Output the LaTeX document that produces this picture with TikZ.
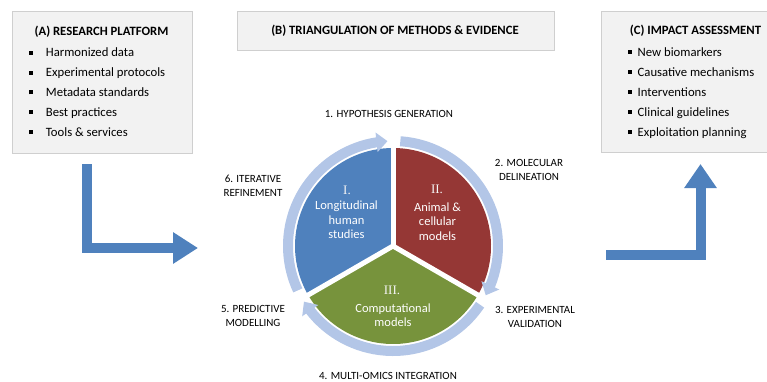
\documentclass[tikz,border=0pt]{standalone}
\usepackage{fontspec}
\setmainfont{Carlito}
\newfontfamily\romanfont{Liberation Serif}
\usetikzlibrary{arrows.meta,bending}

\definecolor{boxfill}{HTML}{F2F2F2}
\definecolor{boxline}{HTML}{CFCFCF}
\definecolor{flowblue}{HTML}{4F81BD}
\definecolor{humanblue}{HTML}{4F81BD}
\definecolor{animalred}{HTML}{953735}
\definecolor{compgreen}{HTML}{77933C}
\definecolor{ringblue}{HTML}{B3C6E7}

\newcommand{\sqbullet}[1]{\makebox[#1][l]{\rule[2.1pt]{4pt}{4pt}}}

\begin{document}
\begin{tikzpicture}[x=1pt, y=1pt,
every node/.style={inner sep=0pt},
panel/.style={draw=boxline, fill=boxfill, line width=0.8pt},
paneltitle/.style={font=\fontsize{12.7}{15}\selectfont\bfseries, text height=8.2pt, text depth=0pt},
panelitem/.style={font=\fontsize{12.7}{15}\selectfont, anchor=west, text height=8.2pt, text depth=0pt},
stagelabel/.style={font=\fontsize{11}{14}\selectfont, align=center},
modellabel/.style={font=\fontsize{12.5}{14.5}\selectfont, align=center, text=white},
numeral/.style={font=\fontsize{13}{15}\selectfont\romanfont, text=white!92!gray},
bigarrow/.style={draw=flowblue, line width=10pt, line join=miter},
ringarrow/.style={draw=ringblue, line width=10pt, -{Triangle[length=11pt,width=19pt]}}
]
\useasboundingbox (0,0) rectangle (767,381);

% three panels
\node[panel, minimum width=180pt, minimum height=142pt] (research) at (102,299) {};
\node[panel, minimum width=317pt, minimum height=39pt] (triangulation) at (395.5,350.5) {};
\node[panel, minimum width=169pt, minimum height=141pt] (impact) at (685.5,299.5) {};

\node[paneltitle] (research-title) at (101.5,350) {(A) RESEARCH PLATFORM};
\node[paneltitle] (triangulation-title) at (395,351) {(B) TRIANGULATION OF METHODS \& EVIDENCE};
\node[paneltitle] (impact-title) at (695.5,351) {(C) IMPACT ASSESSMENT};

\foreach \txt [count=\k] in {Harmonized data, Experimental protocols, Metadata standards, Best practices, Tools \& services}
    \node[panelitem] (research-\k) at (28.7,381-33-19.8*\k) {\sqbullet{17pt}\txt};
\foreach \txt [count=\k] in {New biomarkers, Causative mechanisms, Interventions, Clinical guidelines, Exploitation planning}
    \node[panelitem] (impact-\k) at (628,381-32-20*\k) {\sqbullet{9.5pt}\txt};

% pie of the three model types
\coordinate (hub) at (393,135);
\fill[humanblue] (hub) -- ++(90:98) arc[start angle=90, end angle=210, radius=98] -- cycle;
\fill[animalred] (hub) -- ++(-30:98) arc[start angle=-30, end angle=90, radius=98] -- cycle;
\fill[compgreen] (hub) -- ++(210:98) arc[start angle=210, end angle=330, radius=98] -- cycle;
\foreach \a in {90,210,330}
    \draw[white, line width=5pt] (hub) -- ++(\a:102);

% cycle around the pie
\foreach \s/\e in {205/93, 86/-28, -34/-148}
    \draw[ringarrow] ([shift={(\s:105)}]hub) arc[start angle=\s, end angle=\e, radius=105];

\node[numeral] (human-num) at (347,191) {I.};
\node[modellabel] (human) at (346.5,161) {Longitudinal\\human\\studies};
\node[numeral] (animal-num) at (437,192) {II.};
\node[modellabel] (animal) at (437.5,159.5) {Animal \&\\cellular\\models};
\node[numeral] (comp-num) at (392,91) {III.};
\node[modellabel] (comp) at (393,66) {Computational\\models};

\node[stagelabel] (hypothesis) at (389,267) {1. HYPOTHESIS GENERATION};
\node[stagelabel] (delineation) at (529,211) {2. MOLECULAR\\DELINEATION};
\node[stagelabel] (validation) at (535,64.5) {3. EXPERIMENTAL\\VALIDATION};
\node[stagelabel] (integration) at (388,5) {4. MULTI-OMICS INTEGRATION};
\node[stagelabel] (predictive) at (253,65.5) {5. PREDICTIVE\\MODELLING};
\node[stagelabel] (refinement) at (253,195) {6. ITERATIVE\\REFINEMENT};

% flow arrows in and out
\coordinate (flow-in) at (87,217);
\coordinate (flow-tip) at (198,133);
\coordinate (impact-in) at (606,126.5);
\coordinate (impact-tip) at (700.5,217);
\draw[bigarrow, -{Triangle[length=25pt,width=30pt]}] (flow-in) |- (flow-tip);
\draw[bigarrow, -{Triangle[length=24pt,width=31pt]}] (impact-in) -| (impact-tip);
\end{tikzpicture}
\end{document}
